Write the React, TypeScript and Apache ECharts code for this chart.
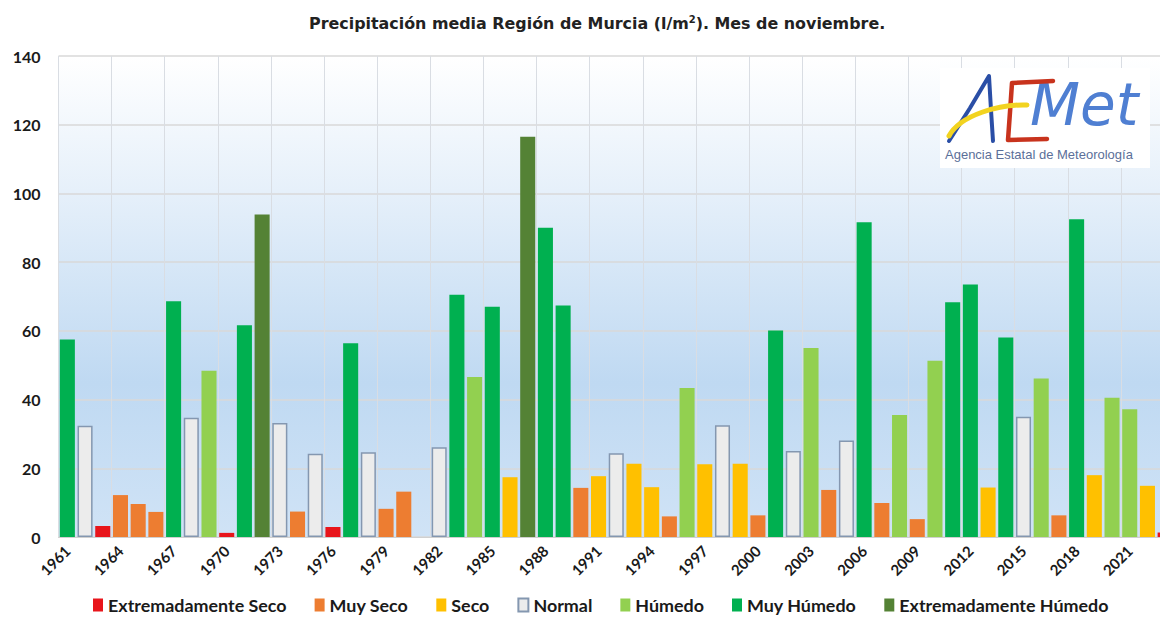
import React, { useEffect, useRef } from "react";
import * as echarts from "echarts";

const years = [
  "1961","1962","1963","1964","1965","1966","1967","1968","1969","1970",
  "1971","1972","1973","1974","1975","1976","1977","1978","1979","1980",
  "1981","1982","1983","1984","1985","1986","1987","1988","1989","1990",
  "1991","1992","1993","1994","1995","1996","1997","1998","1999","2000",
  "2001","2002","2003","2004","2005","2006","2007","2008","2009","2010",
  "2011","2012","2013","2014","2015","2016","2017","2018","2019","2020",
  "2021","2022","2023",
];

const precip = [
  57.5, 32.4, 3.2, 12.2, 9.6, 7.3, 68.6, 34.7, 48.4, 1.2,
  61.6, 93.9, 33.2, 7.4, 24.2, 2.9, 56.4, 24.7, 8.2, 13.2,
  0, 26.1, 70.5, 46.6, 67.0, 17.4, 116.5, 90.0, 67.4, 14.3,
  17.7, 24.4, 21.3, 14.5, 6.0, 43.4, 21.2, 32.5, 21.3, 6.3,
  60.1, 25.0, 55.0, 13.7, 28.1, 91.6, 9.9, 35.5, 5.2, 51.3,
  68.3, 73.5, 14.4, 58.1, 35.0, 46.1, 6.3, 92.5, 18.0, 40.5,
  37.2, 14.9, 1.3,
];

// ES, MS, S, N, H, MH, EH
const classOf = [
  "MH","N","ES","MS","MS","MS","MH","N","H","ES",
  "MH","EH","N","MS","N","ES","MH","N","MS","MS",
  "ES","N","MH","H","MH","S","EH","MH","MH","MS",
  "S","N","S","S","MS","H","S","N","S","MS",
  "MH","N","H","MS","N","MH","MS","H","MS","H",
  "MH","MH","S","MH","N","H","MS","MH","S","H",
  "H","S","ES",
];

const classKeys = ["ES", "MS", "S", "N", "H", "MH", "EH"];
const classNames = [
  "Extremadamente Seco",
  "Muy Seco",
  "Seco",
  "Normal",
  "Húmedo",
  "Muy Húmedo",
  "Extremadamente Húmedo",
];
const classColors = ["#e8151b", "#ed7d31", "#ffc000", "#ececec", "#92d050", "#00b050", "#548235"];

const yTicks = { min: 0, max: 140, interval: 20 };

export default function App() {
  const ref = useRef<HTMLDivElement>(null);

  useEffect(() => {
    if (!ref.current) return;
    const chart = echarts.init(ref.current, undefined, { renderer: "svg" });

    const series = classKeys.map((k, ci) => ({
      name: classNames[ci],
      type: "bar",
      stack: "total",
      barCategoryGap: "15%",
      itemStyle:
        k === "N"
          ? { color: classColors[ci], borderColor: "#8497b0", borderWidth: 1.5 }
          : { color: classColors[ci] },
      data: precip.map((v, i) => (classOf[i] === k ? v : "-")),
    }));

    const font = "Lato, 'Open Sans', sans-serif";

    chart.setOption({
      animation: false,
      backgroundColor: "#ffffff",
      title: {
        text: "Precipitación media Región de Murcia (l/m{s|2}). Mes de noviembre.",
        left: 309,
        top: 14,
        padding: 0,
        textStyle: {
          fontFamily: "'DejaVu Sans', sans-serif",
          fontWeight: "bold",
          fontSize: 15.9,
          color: "#222222",
          rich: {
            s: {
              fontFamily: "'DejaVu Sans', sans-serif",
              fontWeight: "bold",
              fontSize: 10,
              color: "#222222",
              padding: [0, 0, 8, 0],
            },
          },
        },
      },
      legend: {
        left: 93,
        top: 596,
        padding: 0,
        itemWidth: 10,
        itemHeight: 13,
        itemGap: 28,
        icon: "rect",
        textStyle: {
          fontFamily: font,
          fontWeight: "bold",
          fontSize: 17.9,
          color: "#1a1a1a",
        },
        data: classNames,
      },
      grid: {
        left: 58.5,
        right: 2,
        top: 56,
        bottom: 80,
        show: true,
        borderWidth: 0,
        backgroundColor: {
          type: "linear",
          x: 0,
          y: 0,
          x2: 0,
          y2: 1,
          colorStops: [
            { offset: 0, color: "#ffffff" },
            { offset: 0.28, color: "#e6f0fa" },
            { offset: 0.68, color: "#bfd9f2" },
            { offset: 1, color: "#d0e3f6" },
          ],
        },
      },
      xAxis: {
        type: "category",
        data: years,
        axisLine: { show: true, lineStyle: { color: "#d0d0d0", width: 1 } },
        axisTick: { show: false },
        axisLabel: {
          interval: 2,
          rotate: 45,
          margin: 11,
          fontFamily: font,
          fontWeight: "bold",
          fontSize: 15,
          color: "#1a1a1a",
        },
        splitLine: {
          show: true,
          interval: (index: number) => index % 3 === 0,
          lineStyle: { color: "#d9dde3", width: 1 },
        },
      },
      yAxis: {
        type: "value",
        min: yTicks.min,
        max: yTicks.max,
        interval: yTicks.interval,
        axisLine: { show: false },
        axisTick: { show: false },
        axisLabel: {
          margin: 18,
          fontFamily: font,
          fontWeight: "bold",
          fontSize: 16,
          color: "#1a1a1a",
        },
        splitLine: { show: true, lineStyle: { color: "#d9d9d9", width: 1.5 } },
      },
      graphic: {
        elements: [
          {
            type: "rect",
            shape: { x: 940, y: 68, width: 210, height: 100 },
            style: { fill: "#ffffff" },
            z: 10,
          },
          {
            type: "text",
            x: 1030,
            y: 76,
            style: {
              text: "Met",
              fontSize: 58,
              fontStyle: "italic",
              fontFamily: "'DejaVu Sans', sans-serif",
              fill: "#4f7fd2",
            },
            z: 11,
          },
          {
            type: "polyline",
            shape: { points: [[949, 141], [970, 108], [989, 76], [991, 110], [993, 141]] },
            style: { stroke: "#2a4ea6", lineWidth: 4, fill: "none", lineJoin: "round", lineCap: "round" },
            z: 12,
          },
          {
            type: "polyline",
            shape: { points: [[1053, 81], [1012, 83], [1010, 112], [1008, 140], [1047, 139]] },
            style: { stroke: "#c8331d", lineWidth: 4.5, fill: "none", lineJoin: "round", lineCap: "round" },
            z: 12,
          },
          {
            type: "bezierCurve",
            shape: { x1: 949, y1: 136, cpx1: 960, cpy1: 115, cpx2: 1000, cpy2: 104, x2: 1027, y2: 105 },
            style: { stroke: "#f2d320", lineWidth: 5, fill: "none", lineCap: "round" },
            z: 13,
          },
          {
            type: "text",
            x: 945,
            y: 148,
            style: {
              text: "Agencia Estatal de Meteorología",
              fontSize: 13,
              fontFamily: "'Liberation Sans', sans-serif",
              fill: "#5b6f99",
            },
            z: 11,
          },
        ],
      },
      series,
    });

    return () => chart.dispose();
  }, []);

  return (
    <div
      style={{
        position: "fixed",
        left: 0,
        top: 0,
        width: 1160,
        height: 617,
        overflow: "hidden",
        background: "#ffffff",
      }}
    >
      <div ref={ref} style={{ width: 1176, height: 617 }} />
    </div>
  );
}
